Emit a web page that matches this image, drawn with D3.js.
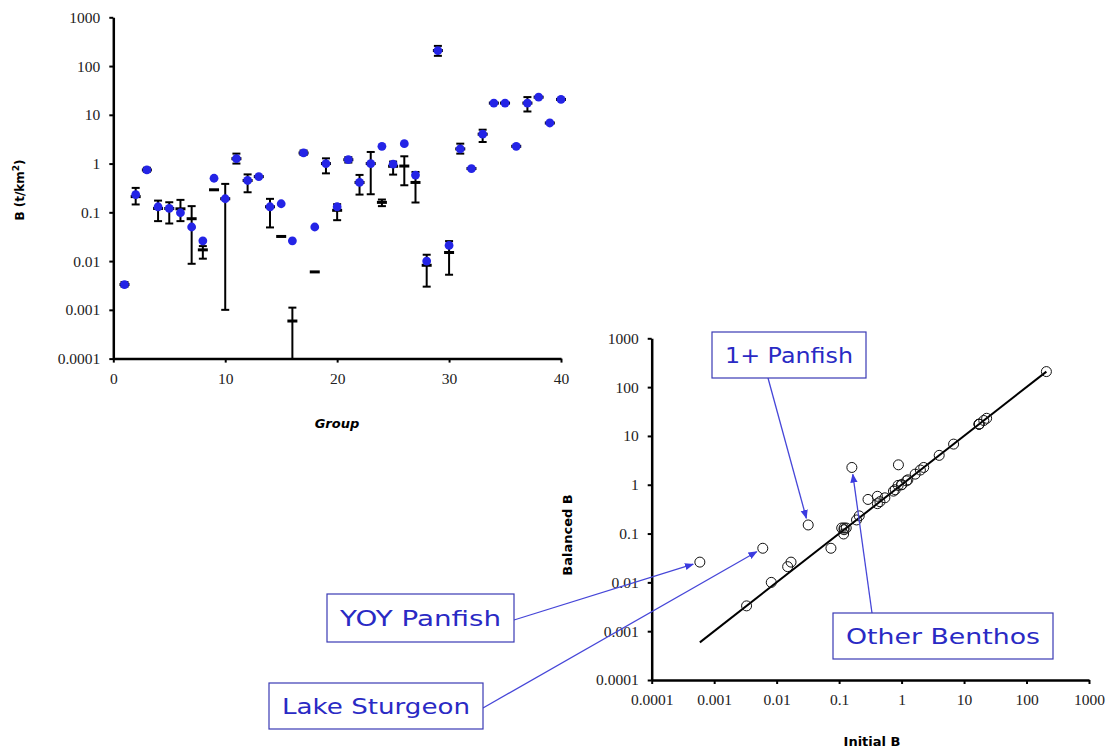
<!DOCTYPE html>
<html>
<head>
<meta charset="utf-8">
<script src="https://cdn.jsdelivr.net/npm/d3@7"></script>
<style>
  html, body { margin: 0; padding: 0; background: #ffffff; }
  svg { display: block; }
</style>
</head>
<body>
<svg id="chart" width="1113" height="755"></svg>
<script>
// ---------------- DATA ----------------
const groups = d3.range(1, 41);
// Balanced B (blue dots)
const balancedB = [0.0033, 0.23, 0.74, 0.13, 0.12, 0.098, 0.050, 0.026, 0.50, 0.19,
                   1.26, 0.45, 0.54, 0.13, 0.15, 0.026, 1.65, 0.050, 1.0, 0.13,
                   1.2, 0.41, 1.0, 2.26, 0.97, 2.56, 0.58, 0.010, 208, 0.021,
                   2.0, 0.79, 4.0, 17.4, 17.4, 2.26, 17.4, 23, 6.8, 20.7];
// Initial B (black mean markers)
const initialB = [0.0033, 0.21, 0.74, 0.12, 0.12, 0.118, 0.074, 0.017, 0.29, 0.19,
                  1.26, 0.45, 0.54, 0.13, 0.032, 0.00059, 1.65, 0.006, 1.0, 0.11,
                  1.2, 0.41, 1.0, 0.16, 0.88, 0.89, 0.41, 0.0082, 208, 0.015,
                  2.0, 0.79, 4.0, 17.4, 17.4, 2.26, 17.4, 23, 6.8, 20.7];
// Error bar ranges (null = none)
const lowerB = [0.0030, 0.145, 0.68, 0.066, 0.059, 0.066, 0.0088, 0.0112, null, 0.001,
                1.0, 0.258, null, 0.049, null, 0.0001, 1.5, null, 0.63, 0.069,
                1.05, 0.231, 0.235, 0.134, 0.594, 0.359, 0.159, 0.00299, 162, 0.00525,
                1.6, null, 2.77, null, null, null, 11.7, null, null, null];
const upperB = [0.0037, 0.317, 0.82, 0.174, 0.161, 0.18, 0.134, 0.0203, null, 0.383,
                1.6, 0.60, null, 0.189, null, 0.00111, 1.85, null, 1.28, 0.147,
                1.35, 0.585, 1.73, 0.183, 1.1, 1.41, 0.673, 0.0135, 259, 0.0257,
                2.56, null, 4.95, null, null, null, 23.1, null, null, null];

const logTicks = [1e-4, 1e-3, 1e-2, 1e-1, 1, 10, 100, 1000];
const logTickLabels = ["0.0001", "0.001", "0.01", "0.1", "1", "10", "100", "1000"];
const groupTicks = [0, 10, 20, 30, 40];

// annotations: label + group number it points to
const annotations = [
  { label: "1+ Panfish",    group: 15 },
  { label: "Other Benthos", group: 24 },
  { label: "YOY Panfish",   group: 16 },
  { label: "Lake Sturgeon", group: 18 }
];

// ---------------- STYLE / LAYOUT ----------------
const svg = d3.select("#chart");
const tickFont = "'Liberation Serif', 'Times New Roman', serif";
const titleFont = "'DejaVu Sans', sans-serif";
const blue = "#2424e6";
const annBlue = "#2a2ac4";

function styleAxis(g) {
  g.select(".domain").attr("stroke", "#000").attr("stroke-width", 2.5);
  g.selectAll(".tick line").attr("stroke", "#000").attr("stroke-width", 2);
  g.selectAll(".tick text").attr("font-family", tickFont).attr("font-size", 15.5).attr("fill", "#222");
}
const fmtLog = d => logTickLabels[logTicks.indexOf(d)];

// ---------------- LEFT CHART ----------------
const xL = d3.scaleLinear().domain([0, 40]).range([113.3, 561]);
const yL = d3.scaleLog().domain([1e-4, 1e3]).range([358.6, 17.3]).clamp(true);

svg.append("g").attr("transform", `translate(0,${yL(1e-4)})`)
  .call(d3.axisBottom(xL).tickValues(groupTicks).tickSize(4).tickSizeOuter(0).tickPadding(10))
  .call(styleAxis);
svg.append("g").attr("transform", `translate(${xL(0)},0)`)
  .call(d3.axisLeft(yL).tickValues(logTicks).tickFormat(fmtLog).tickSize(4).tickSizeOuter(0).tickPadding(9))
  .call(styleAxis);

const leftData = groups.map((g, i) => ({ g, bal: balancedB[i], ini: initialB[i], lo: lowerB[i], hi: upperB[i] }));

const eb = svg.append("g");
leftData.filter(d => d.lo != null).forEach(d => {
  const x = xL(d.g);
  eb.append("line").attr("x1", x).attr("x2", x).attr("y1", yL(d.lo)).attr("y2", yL(d.hi))
    .attr("stroke", "#000").attr("stroke-width", 2);
  [d.lo, d.hi].forEach(v => {
    if (v <= 1e-4) return;
    eb.append("line").attr("x1", x - 4).attr("x2", x + 4).attr("y1", yL(v)).attr("y2", yL(v))
      .attr("stroke", "#000").attr("stroke-width", 2);
  });
});
// mean markers
svg.append("g").selectAll("line").data(leftData).join("line")
  .attr("x1", d => xL(d.g) - 5).attr("x2", d => xL(d.g) + 5)
  .attr("y1", d => yL(d.ini)).attr("y2", d => yL(d.ini))
  .attr("stroke", "#000").attr("stroke-width", 3);
// balanced dots
svg.append("g").selectAll("circle").data(leftData).join("circle")
  .attr("cx", d => xL(d.g)).attr("cy", d => yL(d.bal)).attr("r", 4.4)
  .attr("fill", blue);

// left axis titles
svg.append("text").attr("x", 337).attr("y", 428).attr("text-anchor", "middle")
  .attr("font-family", titleFont).attr("font-weight", "bold").attr("font-style", "italic")
  .attr("font-size", 13).text("Group");
const yt = svg.append("text").attr("transform", "translate(24,190) rotate(-90)")
  .attr("text-anchor", "middle").attr("font-family", titleFont).attr("font-weight", "bold")
  .attr("font-size", 12);
yt.append("tspan").text("B (t/km");
yt.append("tspan").attr("dy", -5).attr("font-size", 9).text("2");
yt.append("tspan").attr("dy", 5).text(")");

// ---------------- RIGHT CHART ----------------
const xR = d3.scaleLog().domain([1e-4, 1e3]).range([651.7, 1089]);
const yR = d3.scaleLog().domain([1e-4, 1e3]).range([680, 338.3]);

svg.append("g").attr("transform", `translate(0,${yR(1e-4)})`)
  .call(d3.axisBottom(xR).tickValues(logTicks).tickFormat(fmtLog).tickSize(4).tickSizeOuter(0).tickPadding(10))
  .call(styleAxis);
svg.append("g").attr("transform", `translate(${xR(1e-4)},0)`)
  .call(d3.axisLeft(yR).tickValues(logTicks).tickFormat(fmtLog).tickSize(4).tickSizeOuter(0).tickPadding(9))
  .call(styleAxis);

// 1:1 line across the range of initial values
const iMin = d3.min(initialB), iMax = d3.max(initialB);
svg.append("line").attr("x1", xR(iMin)).attr("y1", yR(iMin)).attr("x2", xR(iMax)).attr("y2", yR(iMax))
  .attr("stroke", "#000").attr("stroke-width", 2);

svg.append("g").selectAll("circle").data(leftData).join("circle")
  .attr("cx", d => xR(d.ini)).attr("cy", d => yR(d.bal)).attr("r", 5)
  .attr("fill", "none").attr("stroke", "#111").attr("stroke-width", 1);

svg.append("text").attr("x", 872).attr("y", 746).attr("text-anchor", "middle")
  .attr("font-family", titleFont).attr("font-weight", "bold").attr("font-size", 13).text("Initial B");
svg.append("text").attr("transform", "translate(572,535) rotate(-90)").attr("text-anchor", "middle")
  .attr("font-family", titleFont).attr("font-weight", "bold").attr("font-size", 13).text("Balanced B");

// ---------------- ANNOTATIONS ----------------
const defs = svg.append("defs");
defs.append("marker").attr("id", "arr").attr("viewBox", "0 0 10 10").attr("refX", 9).attr("refY", 5)
  .attr("markerWidth", 7).attr("markerHeight", 7).attr("orient", "auto-start-reverse")
  .append("path").attr("d", "M0,1 L10,5 L0,9 Z").attr("fill", "#3b3be0");

// box layout (position of each callout box and its line start)
const boxes = {
  "1+ Panfish":    { x: 712, y: 332, w: 154, h: 46, sx: 768, sy: 378 },
  "Other Benthos": { x: 833, y: 613, w: 220, h: 46, sx: 872, sy: 613 },
  "YOY Panfish":   { x: 327, y: 594, w: 187, h: 48, sx: 514, sy: 620 },
  "Lake Sturgeon": { x: 269, y: 683, w: 214, h: 46, sx: 483, sy: 708 }
};
annotations.forEach(a => {
  const b = boxes[a.label];
  const i = groups.indexOf(a.group);
  const px = xR(initialB[i]), py = yR(balancedB[i]);
  const dx = px - b.sx, dy = py - b.sy, L = Math.hypot(dx, dy);
  const tx = px - dx / L * 7, ty = py - dy / L * 7;
  svg.append("line").attr("x1", b.sx).attr("y1", b.sy).attr("x2", tx).attr("y2", ty)
    .attr("stroke", "#4646d8").attr("stroke-width", 1.3).attr("marker-end", "url(#arr)");
  svg.append("rect").attr("x", b.x).attr("y", b.y).attr("width", b.w).attr("height", b.h)
    .attr("fill", "#fff").attr("stroke", "#3a3ab4").attr("stroke-width", 1.2);
  svg.append("text").attr("x", b.x + b.w / 2).attr("y", b.y + b.h / 2 + 8).attr("text-anchor", "middle")
    .attr("font-family", "'DejaVu Sans', sans-serif").attr("font-size", 22).attr("fill", annBlue)
    .attr("textLength", b.w - 26).attr("lengthAdjust", "spacingAndGlyphs")
    .text(a.label);
});
</script>
</body>
</html>
